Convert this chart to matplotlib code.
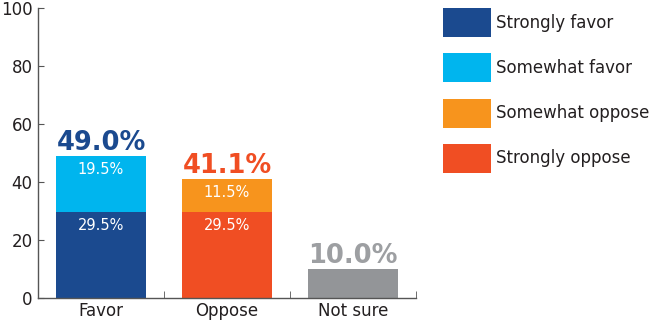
import matplotlib
matplotlib.use("Agg")
import matplotlib.pyplot as plt
from matplotlib.patches import Rectangle

plt.rcParams['font.family'] = ['DejaVu Sans']

categories = ["Favor", "Oppose", "Not sure"]
strong_vals = [29.5, 29.5, 0.0]
somewhat_vals = [19.5, 11.5, 0.0]
unsure_vals = [0.0, 0.0, 10.0]
totals = [49.0, 41.1, 10.0]
legend_labels = ["Strongly favor", "Somewhat favor", "Somewhat oppose", "Strongly oppose"]
yticks = [0, 20, 40, 60, 80, 100]

c_sf, c_swf, c_swo, c_so, c_ns = "#1B4A8F", "#00B5EE", "#F7941D", "#F04E23", "#939598"
strong_colors = [c_sf, c_so, c_ns]
somewhat_colors = [c_swf, c_swo, c_ns]
total_colors = [c_sf, c_so, "#9D9FA2"]
legend_colors = [c_sf, c_swf, c_swo, c_so]
text_c = "#231F20"

W, H = 660, 321
fig = plt.figure(figsize=(6.6, 3.21), dpi=100)
ax = fig.add_axes([38/W, 1-298/H, (416-38)/W, (298-8)/H])

x = list(range(len(categories)))
w = 0.72
ax.bar(x[:2], strong_vals[:2], width=w, color=strong_colors[:2], linewidth=0)
ax.bar(x[:2], somewhat_vals[:2], width=w, bottom=strong_vals[:2], color=somewhat_colors[:2], linewidth=0)
ax.bar(x[2:], unsure_vals[2:], width=w, color=c_ns, linewidth=0)

for i in range(2):
    ax.annotate(f"{strong_vals[i]:.1f}%", (x[i], strong_vals[i]), xytext=(0, -12.8),
                textcoords="offset points", ha="center", va="baseline", color="white", fontsize=10.5)
    top = strong_vals[i] + somewhat_vals[i]
    ax.annotate(f"{somewhat_vals[i]:.1f}%", (x[i], top), xytext=(0, -12.8),
                textcoords="offset points", ha="center", va="baseline", color="white", fontsize=10.5)

for i in range(3):
    top = strong_vals[i] + somewhat_vals[i] + unsure_vals[i]
    ax.annotate(f"{totals[i]:.1f}%", (x[i], top), xytext=(0, 4.3),
                textcoords="offset points", ha="center", va="baseline", color=total_colors[i],
                fontsize=18.5, fontweight="bold")

ax.set_xlim(-0.5, 2.5)
ax.set_ylim(0, 100)
ax.set_yticks(yticks)
ax.set_xticks(x)
ax.set_xticklabels(categories)
ax.set_xticks([-0.5, 0.5, 1.5, 2.5], minor=True)
ax.tick_params(axis="x", which="major", length=0, labelsize=12, colors=text_c, pad=3)
ax.tick_params(axis="x", which="minor", length=5, direction="in", color="#555555")
ax.tick_params(axis="y", length=4, direction="in", labelsize=12, colors=text_c, color="#555555", pad=4)
for s in ["top", "right"]:
    ax.spines[s].set_visible(False)
for s in ["left", "bottom"]:
    ax.spines[s].set_color("#555555")
    ax.spines[s].set_linewidth(1.0)

# legend drawn as figure-level swatches and labels
for k, (lab, col) in enumerate(zip(legend_labels, legend_colors)):
    top = 8 + k * 45.3
    fig.add_artist(Rectangle((443/W, 1-(top+29)/H), 48/W, 29/H, transform=fig.transFigure,
                             facecolor=col, edgecolor="none"))
    fig.text(496/W, 1-(top+14.5)/H, lab, ha="left", va="center", fontsize=12, color=text_c)

fig.savefig("out.png", dpi=100)
